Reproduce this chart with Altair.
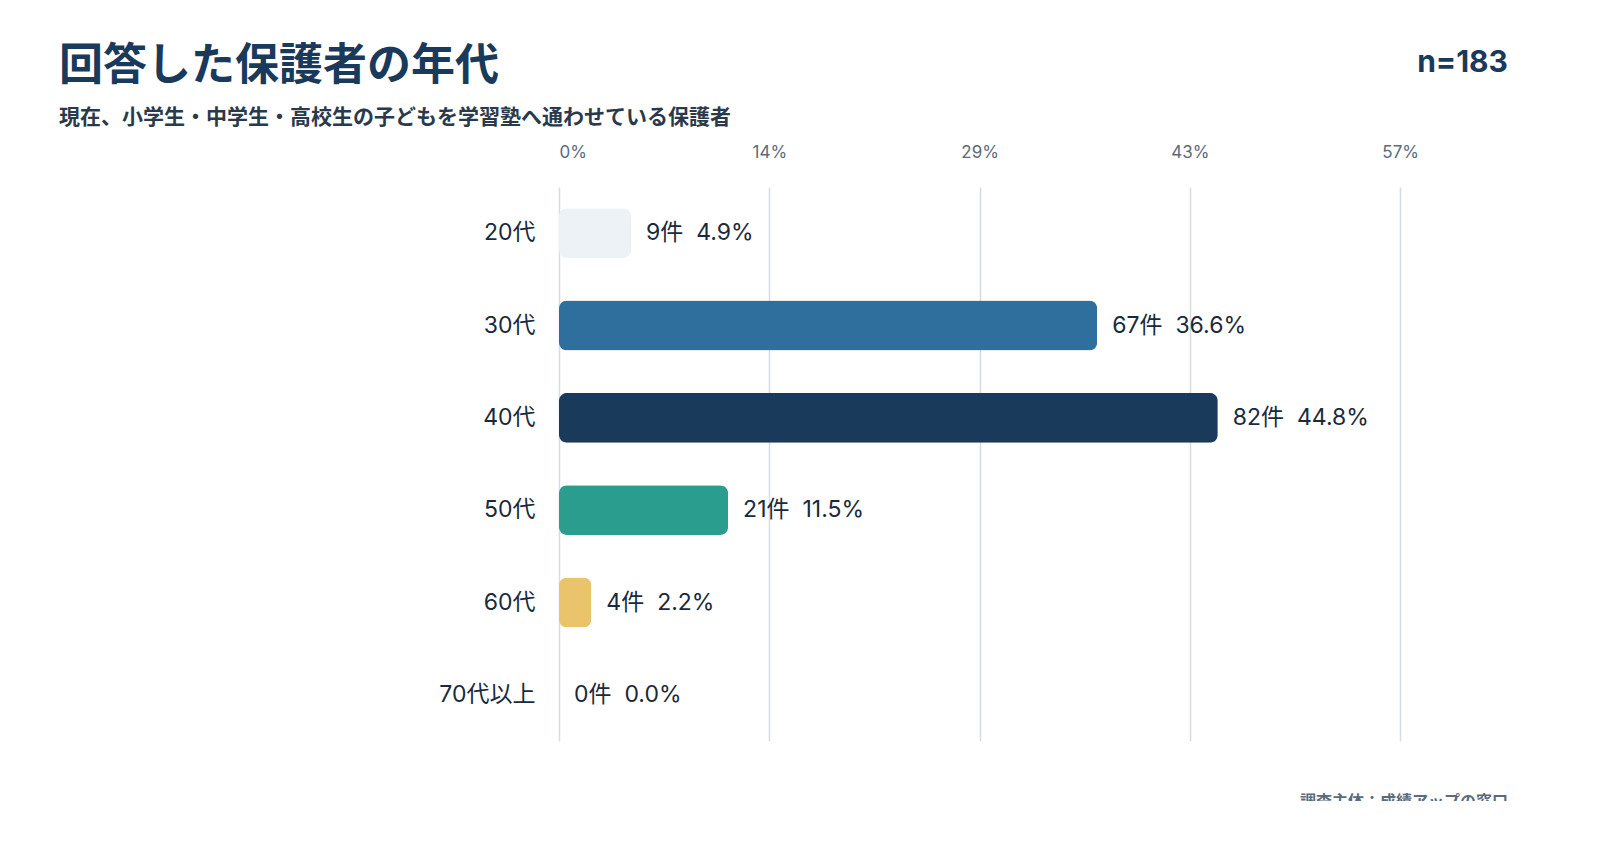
import altair as alt
import pandas as pd

FONT = "Noto Sans CJK JP"
FONT_NUM = "Inter, Noto Sans CJK JP"
NAVY = "#1a3a5c"

ages = ["20代", "30代", "40代", "50代", "60代", "70代以上"]
counts = [9, 67, 82, 21, 4, 0]
pcts = [4.9, 36.6, 44.8, 11.5, 2.2, 0.0]
colors = ["#edf2f7", "#2e6f9e", "#1a3a5c", "#2a9d8f", "#e9c46a", "#cccccc"]
tick_vals = [0, 14.3, 28.6, 42.9, 57.2]

df = pd.DataFrame({"age": ages, "count": counts, "pct": pcts})
df["label"] = [f"{c}件\u00a0\u00a0{p:.1f}%" for c, p in zip(counts, pcts)]

x = alt.X("pct:Q", scale=alt.Scale(domain=[0, 61], nice=False),
          axis=alt.Axis(orient="top", values=tick_vals, title=None,
                        labelExpr="format(datum.value, '.0f') + '%'",
                        labelFontSize=17, labelColor="#5a6b7b", labelFont=FONT_NUM,
                        domain=False, ticks=False, labelPadding=26,
                        gridColor="#d5dce3", gridWidth=1.5))
y = alt.Y("age:N", sort=ages, title=None,
          scale=alt.Scale(paddingInner=0.46, paddingOuter=0.23),
          axis=alt.Axis(labelFontSize=23, labelColor="#1a2a3a", labelFont=FONT_NUM,
                        domain=False, ticks=False, grid=False, labelPadding=24))

base = alt.Chart(df)
bars = base.mark_bar(cornerRadius=8).encode(
    x=x, y=y,
    color=alt.Color("age:N", scale=alt.Scale(domain=ages, range=colors), legend=None))
labels = base.mark_text(align="left", baseline="middle", dx=15, fontSize=23,
                        font=FONT_NUM, color="#1a2a3a").encode(
    x="pct:Q", y=alt.Y("age:N", sort=ages), text="label:N")

one = alt.Chart(pd.DataFrame({"a": [0]}))


def txt(s, xv, yv, size, color, weight="bold", align="left", font=FONT):
    return one.mark_text(text=s, fontSize=size, font=font, color=color,
                         fontWeight=weight, align=align, baseline="middle").encode(
        x=alt.value(xv), y=alt.value(yv))


title = txt("回答した保護者の年代", -500, -120, 44, NAVY)
sub = txt("現在、小学生・中学生・高校生の子どもを学習塾へ通わせている保護者", -500, -69, 21, "#2a3a4a")
nlab = txt("n=183", 949, -124, 30, NAVY, align="right", font=FONT_NUM)
foot = txt("調査主体：成績アップの窓口", 949, 615, 16, "#5a6b7b", align="right")

chart = alt.layer(bars, labels, title, sub, nlab, foot).properties(
    width=897, height=554,
    autosize=alt.AutoSizeParams(type="none"),
    padding={"left": 551, "top": 179, "right": 100, "bottom": 60},
).configure_view(stroke=None)

chart.save("out.html", embed_options={"renderer": "svg", "actions": False})
